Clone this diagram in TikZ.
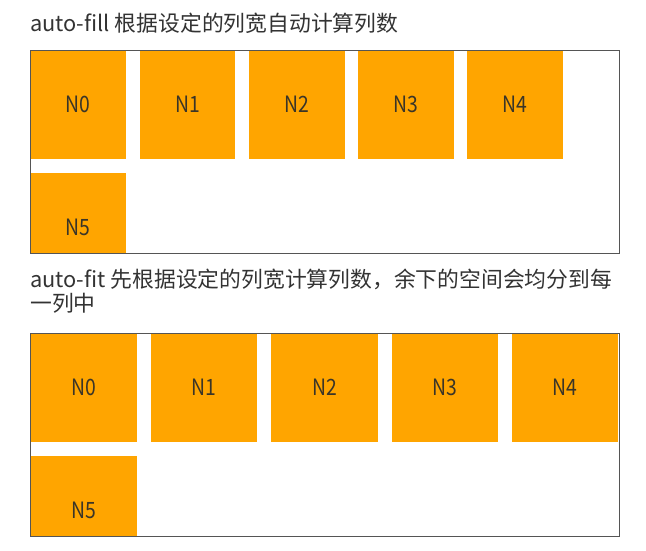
\documentclass[tikz,border=0pt]{standalone}
\usepackage{fontspec}
\setmainfont{Noto Sans CJK SC}
\newfontfamily\cellfont[FakeStretch=0.86]{Noto Sans CJK SC}
\definecolor{cellorange}{HTML}{FFA500}
\definecolor{labelgray}{HTML}{3A3528}
\definecolor{titlegray}{HTML}{333333}
\definecolor{bordergray}{HTML}{555555}
\tikzset{
  cellbox/.style={fill=cellorange, draw=none, inner sep=0pt, text=labelgray,
    font=\cellfont\fontsize{22.5}{26}\selectfont},
  titletext/.style={anchor=west, inner sep=0pt, text=titlegray, align=left,
    font=\fontsize{21.8}{24}\selectfont},
  frame/.style={draw=bordergray, line width=1pt},
}
\begin{document}
\begin{tikzpicture}[x=1pt,y=-1pt]
\useasboundingbox (0,0) rectangle (646,550);
% ---------- auto-fill ----------
\node[titletext] (t1) at (30,23.5) {auto-fill 根据设定的列宽自动计算列数};
\coordinate (b1nw) at (30,50);
\coordinate (b1se) at (619,253);
\begin{scope}
  \clip (b1nw) rectangle (b1se);
  \foreach \i in {0,...,4} {
    \node[cellbox, minimum width=95.7pt, minimum height=109pt]
      (fa\i) at ({30.5+109.2*\i+47.85},104.5) {N\i};
  }
  \node[cellbox, minimum width=95.7pt, minimum height=109pt]
    (fa5) at (78.35,227.5) {N5};
\end{scope}
\draw[frame] (b1nw) rectangle (b1se);
% ---------- auto-fit ----------
\node[titletext, anchor=north west] (t2) at (30,269)
  {auto-fit 先根据设定的列宽计算列数，余下的空间会均分到每\\一列中};
\coordinate (b2nw) at (30,333);
\coordinate (b2se) at (619,536);
\begin{scope}
  \clip (b2nw) rectangle (b2se);
  \foreach \i in {0,...,4} {
    \node[cellbox, minimum width=106.2pt, minimum height=109pt]
      (fb\i) at ({30.5+120.4*\i+53.1},387.5) {N\i};
  }
  \node[cellbox, minimum width=106.2pt, minimum height=109pt]
    (fb5) at (83.6,510.5) {N5};
\end{scope}
\draw[frame] (b2nw) rectangle (b2se);
\end{tikzpicture}
\end{document}
